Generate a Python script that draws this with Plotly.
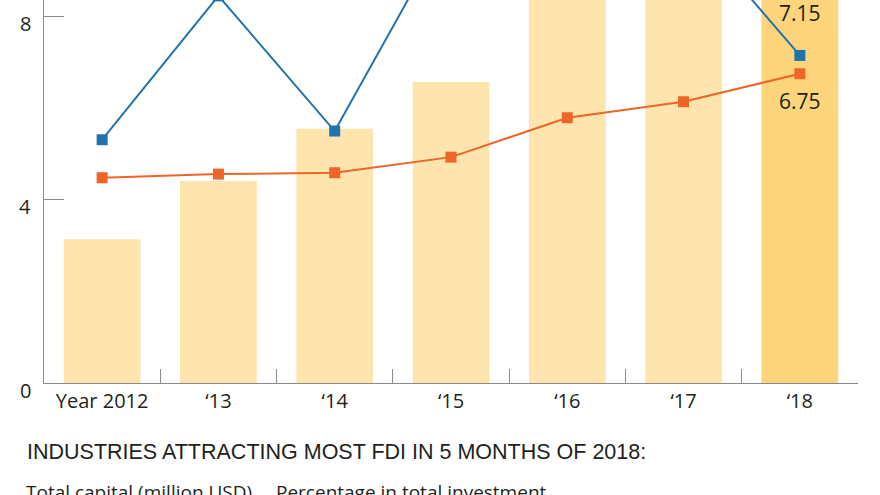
import plotly.graph_objects as go

# data
years = ["Year 2012", "\u201813", "\u201814", "\u201815", "\u201816", "\u201817", "\u201818"]
capital = [3.14, 4.41, 5.55, 6.57, 9.2, 9.8, 10.6]          # bars (tops of last three are cut off)
share_blue = [5.31, 8.45, 5.50, 10.05, 10.0, 10.1, 7.15]   # blue line
share_orange = [4.48, 4.56, 4.59, 4.93, 5.79, 6.14, 6.75]  # orange line
y_ticks = [0, 4, 8]

bar_colors = ["#fde5ad"] * 6 + ["#fcd47c"]
BLUE = "#2273ad"
ORANGE = "#ef6527"
AXIS = "#8a8a8a"
TXT = "#231f20"
NARROW = "Liberation Sans Narrow, Arial Narrow, sans-serif"

fig = go.Figure()

fig.add_trace(go.Bar(
    x=years, y=capital, width=0.66,
    marker=dict(color=bar_colors, line=dict(width=0)),
    hoverinfo="skip", showlegend=False,
))

fig.add_trace(go.Scatter(
    x=years, y=share_blue, mode="lines+markers",
    line=dict(color=BLUE, width=2),
    marker=dict(symbol="square", size=11, color=BLUE),
    cliponaxis=True, showlegend=False,
))

fig.add_trace(go.Scatter(
    x=years, y=share_orange, mode="lines+markers",
    line=dict(color=ORANGE, width=2),
    marker=dict(symbol="square", size=11, color=ORANGE),
    cliponaxis=True, showlegend=False,
))

annots = [
    dict(x=years[-1], y=share_blue[-1], text="7.15", showarrow=False,
         yshift=42, font=dict(size=21, color=TXT)),
    dict(x=years[-1], y=share_orange[-1], text="6.75", showarrow=False,
         yshift=-27, font=dict(size=21, color=TXT)),
    dict(x=-0.0235, y=-0.18, xref="paper", yref="paper", xanchor="left", yanchor="middle",
         text="INDUSTRIES ATTRACTING MOST FDI IN 5 MONTHS OF 2018:", showarrow=False,
         font=dict(size=21.5, color=TXT, family=NARROW)),
    dict(x=-0.025, y=-0.285, xref="paper", yref="paper", xanchor="left", yanchor="middle",
         text="Total capital (million USD)", showarrow=False,
         font=dict(size=19, color=TXT)),
    dict(x=0.282, y=-0.285, xref="paper", yref="paper", xanchor="left", yanchor="middle",
         text="Percentage in total investment", showarrow=False,
         font=dict(size=19, color=TXT)),
]

# y tick labels sit a little below their tick marks in the original
for v in y_ticks:
    annots.append(dict(x=0, y=v, xref="paper", yref="y", xanchor="right", yanchor="middle",
                       xshift=-11, yshift=-7, text=str(v), showarrow=False,
                       font=dict(size=20, color=TXT)))

fig.update_layout(
    width=880, height=495,
    margin=dict(l=44, r=22, t=0, b=112),
    plot_bgcolor="white", paper_bgcolor="white",
    font=dict(family="Open Sans, Noto Sans, sans-serif", color=TXT),
    bargap=0.34,
    annotations=annots,
    xaxis=dict(
        type="category", range=[-0.5, 6.5],
        showline=True, linecolor=AXIS, linewidth=1,
        ticks="inside", tickson="boundaries", ticklen=14, tickcolor=AXIS,
        tickfont=dict(size=20, color=TXT), showgrid=False, fixedrange=True,
    ),
    yaxis=dict(
        range=[0, 8.36], tickvals=y_ticks, showticklabels=False,
        showline=True, linecolor=AXIS, linewidth=1,
        ticks="inside", ticklen=20, tickcolor=AXIS,
        showgrid=False, zeroline=False, fixedrange=True,
    ),
)

# drop the default page margin so the figure sits at the window corner
fig.write_html("out.html", config={"displayModeBar": False},
               post_script="document.body.style.margin='0';")
